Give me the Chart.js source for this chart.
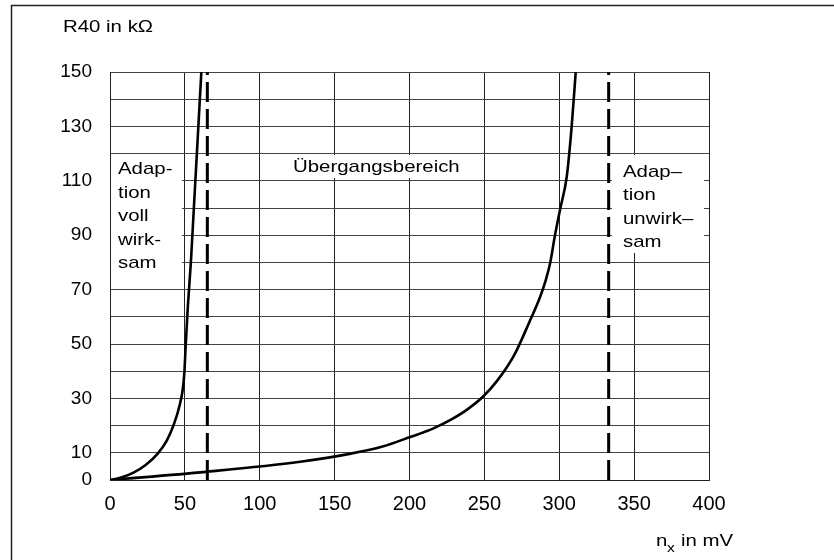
<!DOCTYPE html>
<html>
<head>
<meta charset="utf-8">
<script src="https://cdn.jsdelivr.net/npm/chart.js@4/dist/chart.umd.min.js"></script>
<style>
  html, body { margin: 0; padding: 0; background: #fff; }
  #wrap { width: 834px; height: 560px; }
</style>
</head>
<body>
<div id="wrap"><canvas id="chart" width="834" height="560"></canvas></div>
<script>
// left curve: adaptation fully effective
const leftCurveX = [0, 8, 16, 24, 32, 38, 43, 46.5, 48.5, 49.6, 50.6, 52, 54, 56, 58, 59.5, 61];
const leftCurveY = [0, 1, 2.8, 5.6, 9.8, 14.6, 21, 27.5, 33, 39, 50, 64, 80, 100, 120, 135, 150];

// right curve: transition range
const rightCurveX = [0, 64, 127, 160, 182, 200, 216, 228, 238, 249, 259, 270, 280, 287, 291, 294, 297, 300.5, 305, 308.3, 311];
const rightCurveY = [0, 3, 6.7, 9.6, 12.3, 15.7, 19, 22.3, 25.7, 30.6, 36.8, 46, 58, 67, 73.5, 80, 89.5, 99.3, 111.5, 130, 150];

// dashed boundaries in mV
const boundaryX = [65, 333];

const xTicks = [0, 50, 100, 150, 200, 250, 300, 350, 400];
const yLabelled = [0, 10, 30, 50, 70, 90, 110, 130, 150];

const FONT = '"Liberation Sans", Arial, sans-serif';

const toPoints = (xs, ys) => xs.map((x, i) => ({ x, y: ys[i] }));

const curveStyle = {
  borderColor: '#000',
  borderWidth: 2.6,
  pointRadius: 0,
  fill: false,
  cubicInterpolationMode: 'monotone',
};

const boundaryStyle = {
  borderColor: '#000',
  borderWidth: 3,
  borderDash: [20, 7],
  pointRadius: 0,
  fill: false,
};

// draws stretched text like the scanned figure
const stretchText = (ctx, text, x, y, size, sx = 1.2) => {
  ctx.save();
  ctx.translate(x, y);
  ctx.scale(sx, 1);
  ctx.font = `${size}px ${FONT}`;
  ctx.fillStyle = '#000';
  ctx.textBaseline = 'alphabetic';
  ctx.textAlign = 'left';
  ctx.fillText(text, 0, 0);
  ctx.restore();
};

const notesPlugin = {
  id: 'notes',
  beforeDatasetsDraw(chart) {
    const { ctx } = chart;
    // white boxes behind the region notes
    ctx.save();
    ctx.fillStyle = '#fff';
    ctx.fillRect(111, 155, 71, 121);
    ctx.fillRect(290, 155, 178, 23);
    ctx.fillRect(612, 155, 92, 98);
    ctx.restore();

    stretchText(ctx, 'Übergangsbereich', 293, 172, 17);
    ['Adap-', 'tion', 'voll', 'wirk-', 'sam'].forEach((t, i) => {
      stretchText(ctx, t, 118, 174 + i * 23.5, 17);
    });
    ['Adap–', 'tion', 'unwirk–', 'sam'].forEach((t, i) => {
      stretchText(ctx, t, 623, 176.5 + i * 23.5, 17);
    });
  },
  afterDraw(chart) {
    const { ctx } = chart;
    ctx.save();
    ctx.strokeStyle = '#222';
    ctx.lineWidth = 1.5;
    ctx.beginPath();
    ctx.moveTo(11.5, 560);
    ctx.lineTo(11.5, 5.5);
    ctx.lineTo(834, 5.5);
    ctx.stroke();
    ctx.restore();

    stretchText(ctx, 'R40 in kΩ', 63, 32, 17);
    stretchText(ctx, 'n', 656, 546, 17);
    stretchText(ctx, 'x', 667, 552, 13);
    stretchText(ctx, 'in mV', 681, 546, 17);
  },
};

new Chart(document.getElementById('chart'), {
  type: 'line',
  data: {
    datasets: [
      { ...curveStyle, data: toPoints(leftCurveX, leftCurveY) },
      { ...curveStyle, data: toPoints(rightCurveX, rightCurveY) },
      ...boundaryX.map((bx) => ({ ...boundaryStyle, data: [{ x: bx, y: 0 }, { x: bx, y: 150 }] })),
    ],
  },
  options: {
    responsive: false,
    animation: false,
    events: [],
    layout: { padding: { top: 72, right: 125, left: 0, bottom: 0 } },
    plugins: { legend: { display: false }, tooltip: { enabled: false } },
    scales: {
      x: {
        type: 'linear',
        min: 0,
        max: 400,
        afterFit: (scale) => { scale.height = 80; },
        afterBuildTicks: (scale) => { scale.ticks = xTicks.map((value) => ({ value })); },
        grid: { color: '#222', lineWidth: 1, drawTicks: false },
        border: { color: '#222', width: 1 },
        ticks: { color: '#000', padding: 12, maxRotation: 0, font: { family: FONT, size: 20 } },
      },
      y: {
        type: 'linear',
        min: 0,
        max: 150,
        afterFit: (scale) => { scale.width = 110; },
        grid: { color: '#444', lineWidth: 1, drawTicks: false },
        border: { color: '#222', width: 1 },
        ticks: {
          stepSize: 10,
          color: '#000',
          padding: 18,
          font: { family: FONT, size: 19 },
          callback: (v) => (yLabelled.includes(v) ? String(v) : ''),
        },
      },
    },
  },
  plugins: [notesPlugin],
});
</script>
</body>
</html>
